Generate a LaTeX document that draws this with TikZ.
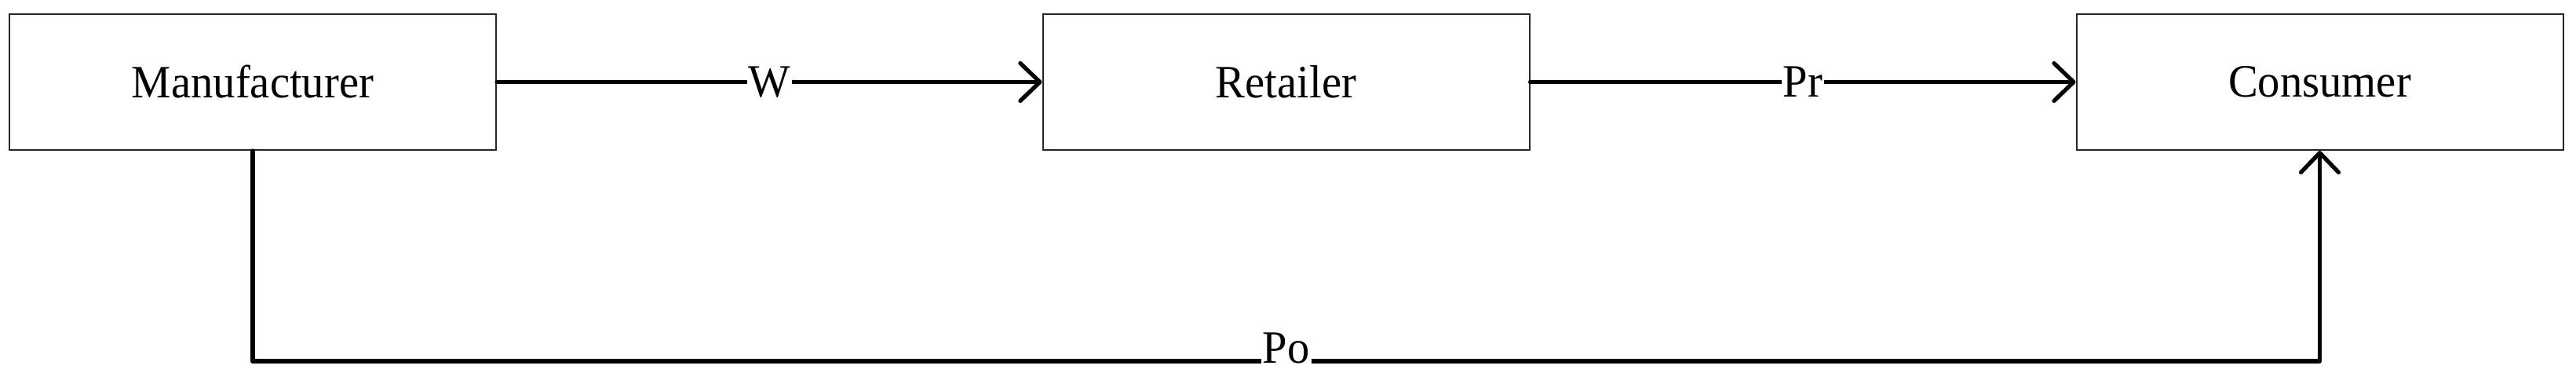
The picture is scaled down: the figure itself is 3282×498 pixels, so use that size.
\documentclass[tikz,border=0pt]{standalone}
\usepackage{fontspec}
\setmainfont{Liberation Serif}[FakeStretch=0.96]
\usetikzlibrary{arrows.meta}
\begin{document}
\begin{tikzpicture}[x=0.25pt,y=-0.25pt,
  agent/.style={draw=black!85, line width=0.5pt, minimum width=155pt, minimum height=43.25pt, inner sep=0pt, font=\fontsize{14.75}{18}\selectfont},
  conn/.style={line width=1.3pt, line cap=round, line join=round},
  arr/.style={-{Straight Barb[length=6.25pt,width=12pt,round]}},
  lbl/.style={fill=white, inner xsep=0.5pt, inner ysep=0pt, font=\fontsize{14.75}{18}\selectfont}]
\useasboundingbox (0,0) rectangle (3282,498);
\node[agent] (m) at (322,104.5) {Manufacturer};
\node[agent] (r) at (1638.5,104.5) {Retailer};
\node[agent] (c) at (2955.5,104.5) {Consumer};
\coordinate (b) at (0,460);
\draw[conn,arr] (m.east) -- node[lbl]{W} (r.west);
\draw[conn,arr] (r.east) -- node[lbl]{Pr} (c.west);
\draw[conn,arr] (m.south) -- (m.south |- b) -- node[lbl, pos=0.5, anchor=base, yshift=-0.65pt]{Po} (c.south |- b) -- (c.south);
\end{tikzpicture}
\end{document}
